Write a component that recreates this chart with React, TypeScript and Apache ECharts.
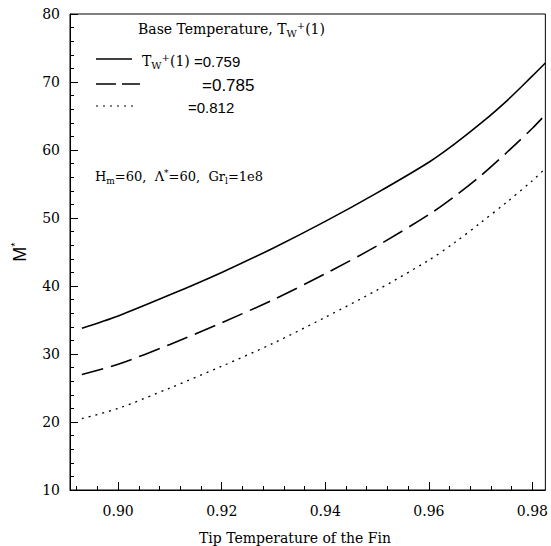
import React, { useEffect, useRef } from "react";
import * as echarts from "echarts";

const tipTemp = [0.893, 0.9, 0.91, 0.92, 0.93, 0.94, 0.95, 0.96, 0.965, 0.97, 0.975, 0.98, 0.9825];
const m759 = [33.8, 35.6, 38.7, 42.0, 45.6, 49.5, 53.7, 58.2, 60.9, 63.9, 67.2, 70.9, 72.8];
const m785 = [27.0, 28.5, 31.4, 34.6, 38.0, 41.8, 45.9, 50.5, 53.2, 56.2, 59.6, 63.2, 65.2];
const m812 = [20.5, 22.0, 25.0, 28.2, 31.6, 35.4, 39.4, 43.8, 46.4, 49.3, 52.3, 55.5, 57.3];
const xMajor = [0.9, 0.92, 0.94, 0.96, 0.98];
const xMinor = [0.892, 0.896, 0.904, 0.908, 0.912, 0.916, 0.924, 0.928, 0.932, 0.936, 0.944, 0.948, 0.952, 0.956, 0.964, 0.968, 0.972, 0.976];

const SERIF = "DejaVu Serif";
const SANS = "Liberation Sans";

export default function App() {
  const ref = useRef<HTMLDivElement>(null);
  useEffect(() => {
    const chart = echarts.init(ref.current!, null, { renderer: "svg" });
    const pts = (ys: number[]) => tipTemp.map((x, i) => [x, ys[i]]);
    const xmin = 0.8907;
    const xmax = 0.9825;
    const richLabel = { a: { fontFamily: SERIF, fontSize: 14, color: "#000", fill: "#000" } };
    chart.setOption({
      animation: false,
      backgroundColor: "#fff",
      textStyle: { fontFamily: SERIF },
      grid: { left: 70, right: 5, top: 14, bottom: 56, show: true, borderColor: "#000", borderWidth: 1 },
      xAxis: [
        {
          type: "value", min: xmin, max: xmax, position: "bottom",
          axisLine: { show: true, lineStyle: { color: "#000" } },
          axisTick: { show: true, inside: true, length: 8, customValues: xMajor, lineStyle: { color: "#000" } },
          axisLabel: { customValues: xMajor, margin: 14, color: "#000", rich: richLabel, formatter: (v: number) => `{a|${v.toFixed(2)}}` },
          splitLine: { show: false },
        },
        {
          type: "value", min: xmin, max: xmax, position: "bottom",
          axisLine: { show: false },
          axisTick: { show: true, inside: true, length: 4, customValues: xMinor, lineStyle: { color: "#000" } },
          axisLabel: { show: false },
          splitLine: { show: false },
        },
      ],
      yAxis: {
        type: "value", min: 10, max: 80, interval: 10,
        axisLine: { show: true, lineStyle: { color: "#000" } },
        axisTick: { show: true, inside: true, length: 8, lineStyle: { color: "#000" } },
        minorTick: { show: true, splitNumber: 5, length: 4, lineStyle: { color: "#000" } },
        axisLabel: { margin: 10, color: "#000", rich: richLabel, formatter: (v: number) => `{a|${v}}` },
        splitLine: { show: false },
      },
      series: [
        { type: "line", data: pts(m759), smooth: 0.3, showSymbol: false, lineStyle: { color: "#000", width: 1.6, type: "solid" } },
        { type: "line", data: pts(m785), smooth: 0.3, showSymbol: false, lineStyle: { color: "#000", width: 1.6, type: [22, 8] } },
        { type: "line", data: pts(m812), smooth: 0.3, showSymbol: false, lineStyle: { color: "#000", width: 1.3, type: [2, 5] } },
      ],
      graphic: [
        {
          type: "text", left: 138, top: 20,
          style: {
            text: "Base Temperature, T{sub|W}{sup|+}(1)", font: `14px ${SERIF}`, fill: "#000",
            rich: {
              sub: { fontSize: 10, fontFamily: SERIF, fill: "#000", padding: [8, 0, 0, 0] },
              sup: { fontSize: 10, fontFamily: SERIF, fill: "#000", padding: [0, 0, 8, 0] },
            },
          },
        },
        { type: "line", shape: { x1: 96, y1: 59, x2: 132, y2: 59 }, style: { stroke: "#000", lineWidth: 1.5 } },
        { type: "line", shape: { x1: 96, y1: 84, x2: 140, y2: 84 }, style: { stroke: "#000", lineWidth: 1.5, lineDash: [20, 6] } },
        { type: "line", shape: { x1: 96, y1: 106, x2: 134, y2: 106 }, style: { stroke: "#000", lineWidth: 1.2, lineDash: [2, 5] } },
        {
          type: "text", left: 142, top: 52,
          style: {
            text: "{t|T}{sub|W}{sup|+}{t|(1)} =0.759", font: `15px ${SANS}`, fill: "#000",
            rich: {
              t: { fontSize: 14, fontFamily: SERIF, fill: "#000" },
              sub: { fontSize: 10, fontFamily: SERIF, fill: "#000", padding: [8, 0, 0, 0] },
              sup: { fontSize: 10, fontFamily: SERIF, fill: "#000", padding: [0, 0, 8, 0] },
            },
          },
        },
        { type: "text", left: 202, top: 77, style: { text: "=0.785", font: `17px ${SANS}`, fill: "#000" } },
        { type: "text", left: 188, top: 100, style: { text: "=0.812", font: `15px ${SANS}`, fill: "#000" } },
        {
          type: "text", left: 95, top: 168,
          style: {
            text: "H{sub|m}=60,  Λ{sup|*}=60,  Gr{sub|l}=1e8", font: `13px ${SERIF}`, fill: "#000",
            rich: {
              sub: { fontSize: 9, fontFamily: SERIF, fill: "#000", padding: [8, 0, 0, 0] },
              sup: { fontSize: 9, fontFamily: SERIF, fill: "#000", padding: [0, 0, 8, 0] },
            },
          },
        },
        {
          type: "text", x: 295, y: 538,
          style: { text: "Tip Temperature of the Fin", font: `14px ${SERIF}`, fill: "#000", align: "center", verticalAlign: "middle" },
        },
        {
          type: "text", x: 20, y: 252, rotation: Math.PI / 2,
          style: {
            text: "M{sup|*}", font: `18px ${SANS}`, fill: "#000", align: "center", verticalAlign: "middle",
            rich: { sup: { fontSize: 11, fontFamily: SANS, fill: "#000", padding: [0, 0, 10, 0] } },
          },
        },
      ],
    });
    return () => chart.dispose();
  }, []);
  return <div ref={ref} style={{ width: 551, height: 546, position: "absolute", left: 0, top: 0 }} />;
}
